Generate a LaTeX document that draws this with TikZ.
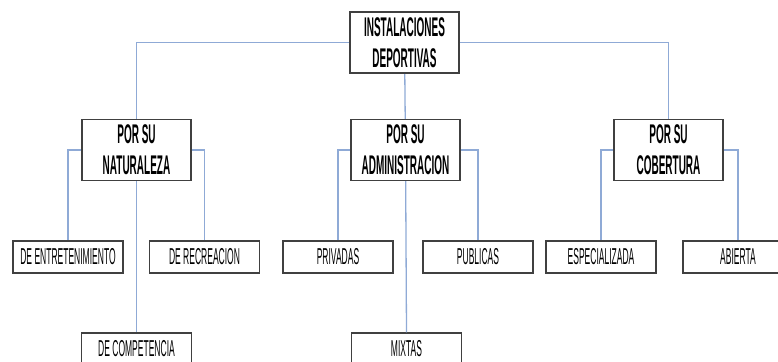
\documentclass[tikz,border=0pt]{standalone}
\usepackage{fontspec}
\setmainfont{Liberation Sans}[FakeStretch=0.37]
\definecolor{linkblue}{RGB}{143,170,214}
\tikzstyle{mainbox}=[rectangle,draw=black!75,line width=1.4pt,fill=white,minimum width=109pt,minimum height=61pt,inner sep=0pt,align=center,font=\bfseries\fontsize{27}{31}\selectfont]
\tikzstyle{leaf}=[rectangle,draw=black!75,line width=1.2pt,fill=white,minimum width=110pt,minimum height=32pt,inner sep=0pt,font=\fontsize{23}{24}\selectfont]
\tikzstyle{edge}=[draw,linkblue,line width=1.3pt,-]

\begin{document}
\begin{tikzpicture}[x=1pt,y=-1pt]
        \clip (0,0) rectangle (778,361);
        \useasboundingbox (0,0) rectangle (778,361);
        % links first, boxes on top
        \coordinate (t) at (404.5,42.5);
        \coordinate (n) at (136.5,150);
        \coordinate (a) at (405.5,150);
        \coordinate (c) at (668.5,150);
        \node[leaf] (n1) at (68,257) {DE ENTRETENIMIENTO};
        \node[leaf] (n2) at (204.5,257) {DE RECREACION};
        \node[leaf] (n3) at (136.5,349) {DE COMPETENCIA};
        \node[leaf] (a1) at (338,257) {PRIVADAS};
        \node[leaf] (a2) at (478,257) {PUBLICAS};
        \node[leaf] (a3) at (406.5,349) {MIXTAS};
        \node[leaf] (c1) at (601,257) {ESPECIALIZADA};
        \node[leaf] (c2) at (738,257) {ABIERTA};
        \path[edge] (t) -| (n);
        \path[edge] (t) -| (c);
        \path[edge] (t) -- (a);
        \path[edge] (n) -| (n1.north);
        \path[edge] (n) -| (n2.north);
        \path[edge] (n) -- (n3.north);
        \path[edge] (a) -| (a1.north);
        \path[edge] (a) -| (a2.north);
        \path[edge] (a) -- (a3.north);
        \path[edge] (c) -| (c1.north);
        \path[edge] (c) -| (c2.north);
        \node[mainbox] (top) at (t) {INSTALACIONES\\DEPORTIVAS};
        \node[mainbox] (nat) at (n) {POR SU\\NATURALEZA};
        \node[mainbox] (adm) at (a) {POR SU\\ADMINISTRACION};
        \node[mainbox] (cob) at (c) {POR SU\\COBERTURA};
    \end{tikzpicture}
\end{document}
